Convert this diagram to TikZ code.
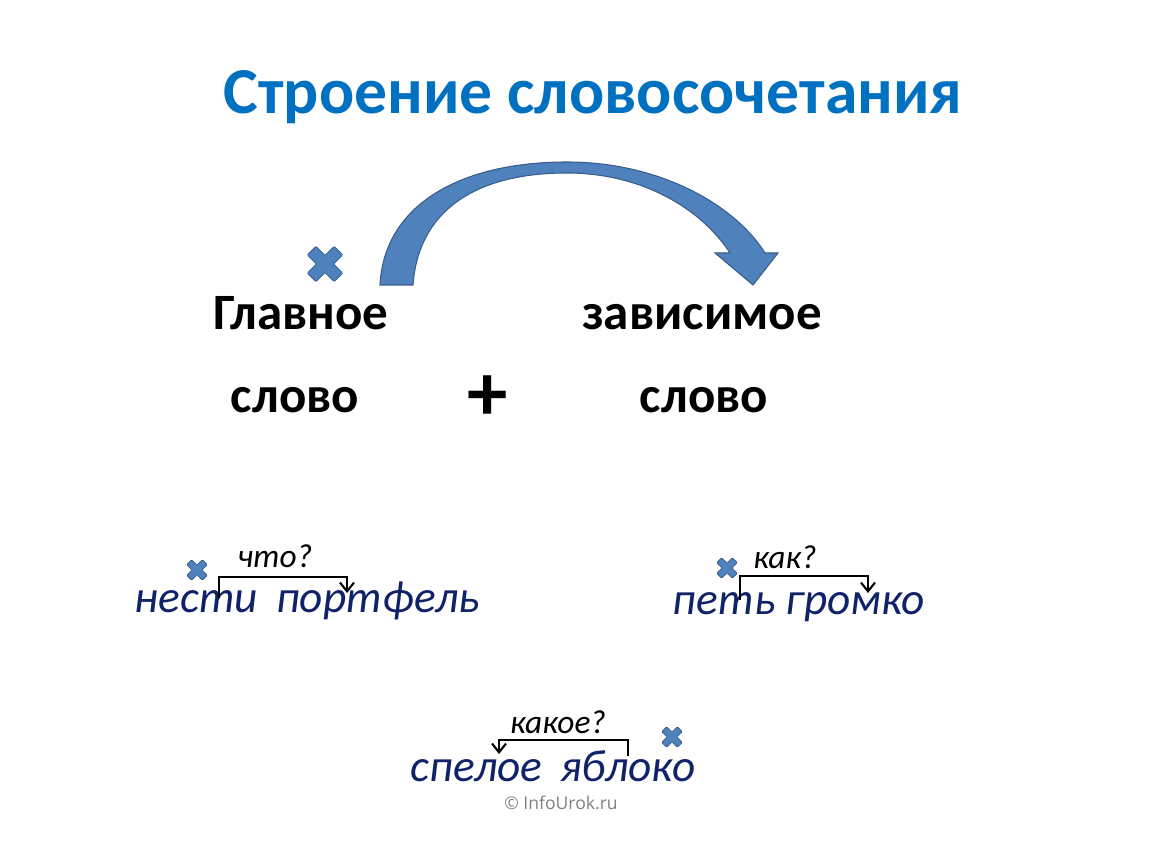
\documentclass[tikz,border=0pt]{standalone}
\usepackage{fontspec}
\setmainfont{Carlito}
\newfontfamily\sitefont{Open Sans}
\usepackage{xcolor}
\usetikzlibrary{arrows.meta, positioning}

\definecolor{titleblue}{RGB}{0,112,192}
\definecolor{shapeblue}{RGB}{79,129,189}
\definecolor{shapeedge}{RGB}{56,93,138}
\definecolor{phrasenavy}{RGB}{16,34,104}

\tikzset{
    heading/.style={text=titleblue, font=\fontsize{37.3}{40}\selectfont\bfseries},
    mainword/.style={anchor=base, font=\fontsize{29}{32}\selectfont\bfseries},
    phrase/.style={anchor=base, text=phrasenavy, font=\fontsize{25.8}{28}\selectfont\itshape},
    question/.style={anchor=base, inner sep=1pt, font=\fontsize{19}{21}\selectfont\itshape},
    qline/.style={line width=1.2pt, -{Straight Barb[length=5pt, width=8pt, line width=1.2pt]}},
    xmark/.pic={
        \filldraw[fill=shapeblue, draw=shapeedge, line width=0.4pt, rounded corners=0.6pt, rotate=45]
        (0.32,0.32) -- (0.32,1) -- (-0.32,1) -- (-0.32,0.32) -- (-1,0.32) -- (-1,-0.32)
        -- (-0.32,-0.32) -- (-0.32,-1) -- (0.32,-1) -- (0.32,-0.32) -- (1,-0.32) -- (1,0.32) -- cycle;
    }
}

\begin{document}
\begin{tikzpicture}[x=0.02cm, y=-0.02cm]
    \fill[white] (0,0) rectangle (1150,864);
    \useasboundingbox (0,0) rectangle (1150,864);

    % title
    \node[heading] (title) at (593,97) {Строение словосочетания};

    % main and dependent word
    \node[mainword] (main1) at (301,330) {Главное};
    \node[mainword] (main2) at (295,413) {слово};
    \node[mainword] (dep1) at (702,330) {зависимое};
    \node[mainword] (dep2) at (704,413) {слово};
    \node[font=\fontsize{46}{46}\selectfont\bfseries] (plus) at (488,398) {+};
    \pic (xmain) at (325,264) [scale=19] {xmark};

    % curved arrow
    \filldraw[fill=shapeblue, draw=shapeedge, line width=0.6pt]
        (380,285) .. controls (384,205) and (460,162) .. (567,162)
        .. controls (660,162) and (735,205) .. (765,253)
        -- (778,253) -- (753,285) -- (715,253) -- (730,253)
        .. controls (700,207) and (640,173) .. (567,173)
        .. controls (470,173) and (418,215) .. (413,285) -- cycle;

    % examples
    \node[phrase] (ex1) at (307,613) {нести\hspace{0.4em}портфель};
    \node[question] (q1) at (275,568) {что?};
    \coordinate (ex1from) at (219,598);
    \coordinate (ex1to) at (347,593);
    \draw[qline] (ex1from) -- ++(0,-21) -| (ex1to);
    \pic (xex1) at (197,570) [scale=11] {xmark};

    \node[phrase] (ex2) at (799,615) {петь громко};
    \node[question] (q2) at (785,569) {как?};
    \coordinate (ex2from) at (740,600);
    \coordinate (ex2to) at (868,593);
    \draw[qline] (ex2from) -- ++(0,-24) -| (ex2to);
    \pic (xex2) at (727,568) [scale=11] {xmark};

    \node[phrase] (ex3) at (553,782) {спелое\hspace{0.4em}яблоко};
    \node[question] (q3) at (558,733) {какое?};
    \coordinate (ex3from) at (628,756);
    \coordinate (ex3to) at (499,754);
    \draw[qline] (ex3from) -- ++(0,-16) -| (ex3to);
    \pic (xex3) at (672,737) [scale=11] {xmark};

    \node[text=gray, font=\sitefont\fontsize{10}{12}\selectfont] (site) at (561,803) {© InfoUrok.ru};
\end{tikzpicture}
\end{document}
